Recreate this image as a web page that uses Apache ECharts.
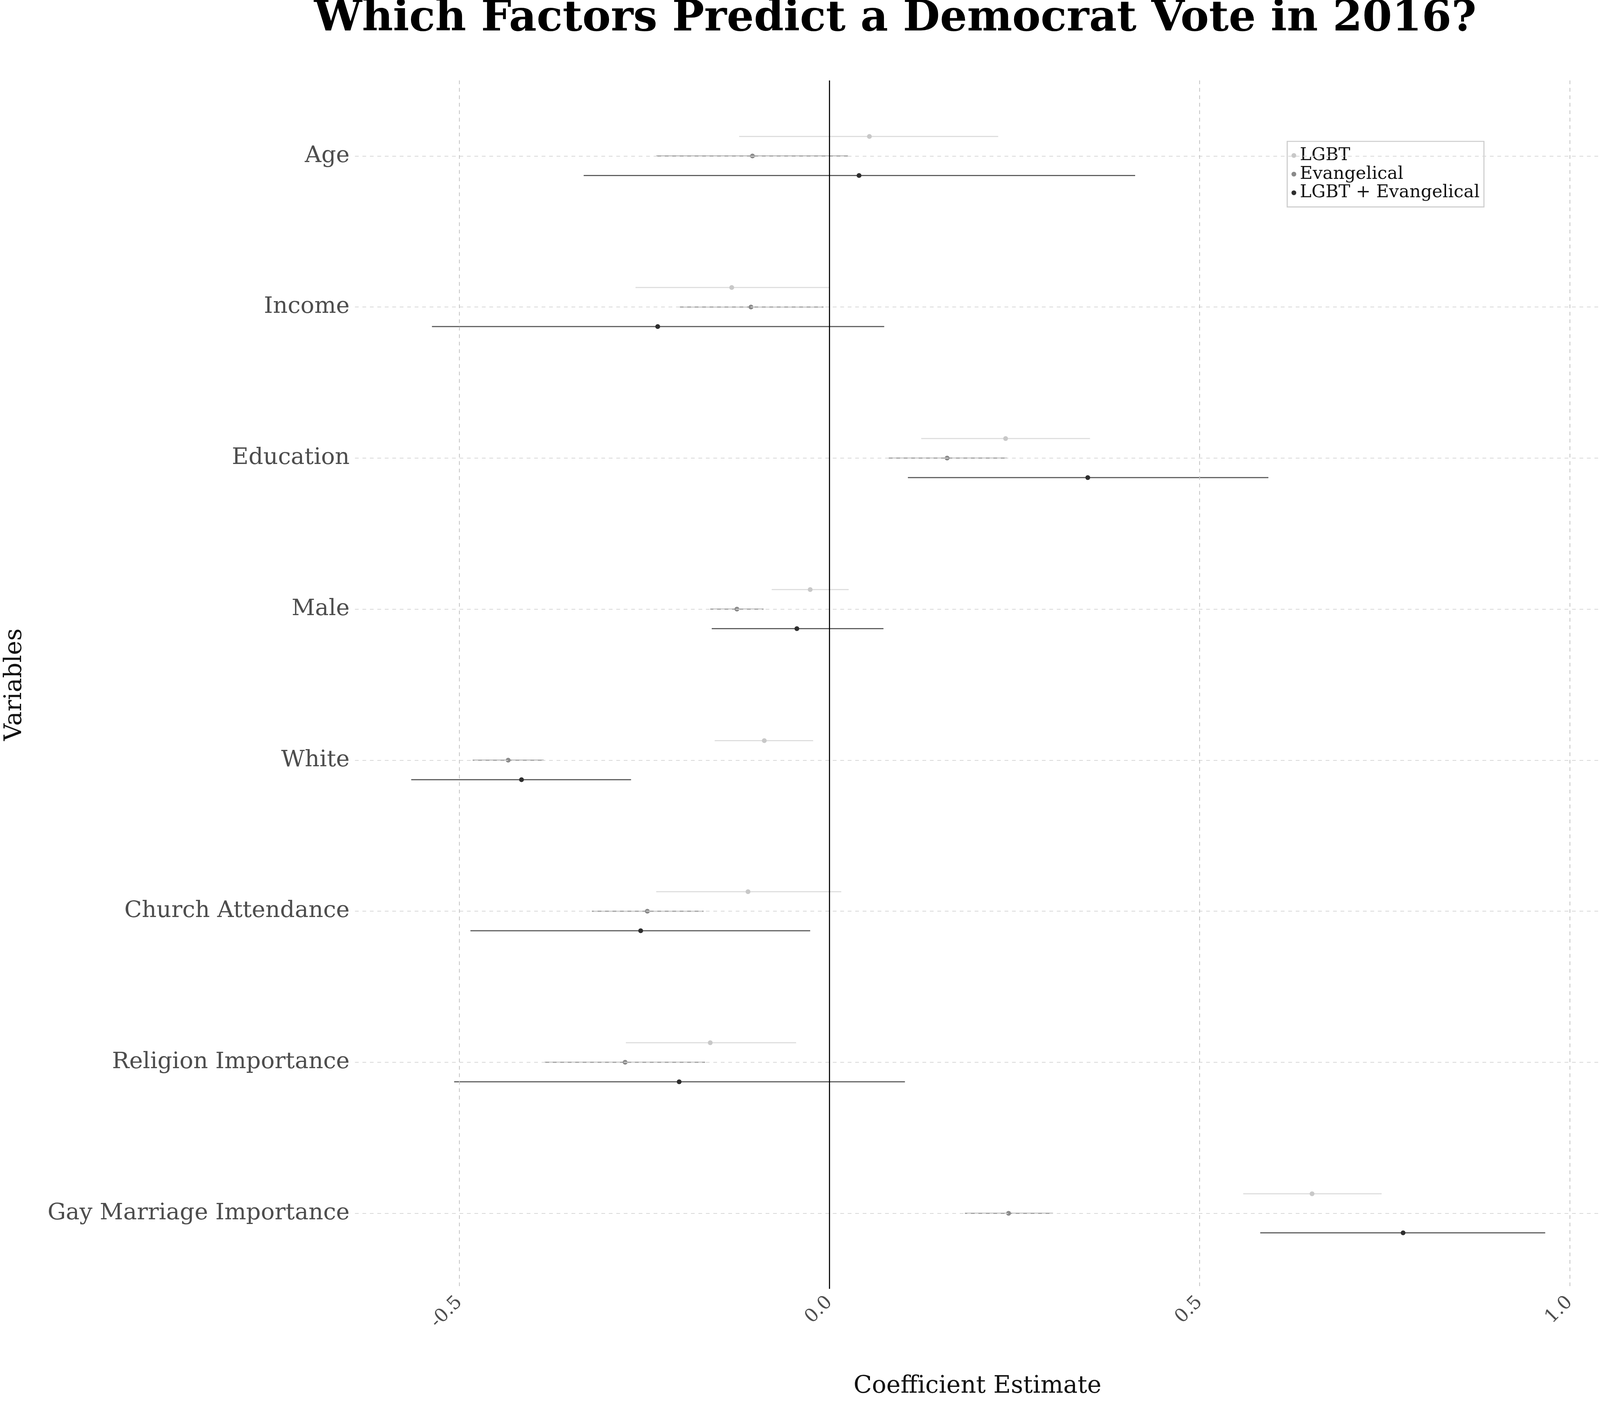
<!DOCTYPE html>
<html>
<head>
<meta charset="utf-8">
<script src="https://cdn.jsdelivr.net/npm/echarts@6/dist/echarts.min.js"></script>
<style>html,body{margin:0;padding:0;background:#fff;overflow:hidden}#chart{width:100vw;height:100vh}</style>
</head>
<body>
<div id="chart"></div>
<script>
var variables = ['Age', 'Income', 'Education', 'Male', 'White', 'Church Attendance', 'Religion Importance', 'Gay Marriage Importance'];
var seriesNames = ['LGBT', 'Evangelical', 'LGBT + Evangelical'];
// [estimate, low, high] per variable
var lgbt = [
	[0.054, -0.122, 0.228], [-0.132, -0.262, 0.0], [0.238, 0.124, 0.352], [-0.026, -0.078, 0.026],
	[-0.088, -0.155, -0.022], [-0.110, -0.234, 0.016], [-0.161, -0.275, -0.045], [0.652, 0.559, 0.746]
];
var evangelical = [
	[-0.104, -0.234, 0.025], [-0.106, -0.202, -0.008], [0.159, 0.080, 0.240], [-0.125, -0.161, -0.089],
	[-0.434, -0.482, -0.386], [-0.246, -0.321, -0.170], [-0.276, -0.385, -0.168], [0.242, 0.183, 0.302]
];
var both = [
	[0.040, -0.332, 0.413], [-0.232, -0.537, 0.074], [0.349, 0.106, 0.593], [-0.044, -0.159, 0.073],
	[-0.416, -0.565, -0.268], [-0.255, -0.485, -0.026], [-0.203, -0.507, 0.102], [0.775, 0.582, 0.967]
];
var xTicks = [-0.5, 0.0, 0.5, 1.0];

var el = document.getElementById('chart');
var W = el.clientWidth, H = el.clientHeight;
var sx = W / 6000, sy = H / 3600, s = Math.min(sx, sy);
var myChart = echarts.init(el);
var font = 'DejaVu Serif';
var colors = ['#c8c8c8', '#8a8a8a', '#2e2e2e'];
var lineColors = ['#dcdcdc', '#9a9a9a', '#555555'];
var offsets = [-50, 0, 50];

function makeSeries(idx, data) {
	return {
		name: seriesNames[idx],
		type: 'custom',
		itemStyle: {color: colors[idx]},
		data: data.map(function (d, i) { return [i, d[0], d[1], d[2]]; }),
		encode: {x: [1, 2, 3], y: 0},
		renderItem: function (params, api) {
			var cat = variables[api.value(0)];
			var p = api.coord([api.value(1), cat]);
			var lo = api.coord([api.value(2), cat]);
			var hi = api.coord([api.value(3), cat]);
			var dy = offsets[idx] * sy;
			return {
				type: 'group',
				children: [{
					type: 'line',
					shape: {x1: lo[0], y1: lo[1] + dy, x2: hi[0], y2: hi[1] + dy},
					style: {stroke: lineColors[idx], lineWidth: 4 * s}
				}, {
					type: 'circle',
					shape: {cx: p[0], cy: p[1] + dy, r: 9 * s},
					style: {fill: colors[idx]}
				}]
			};
		},
		z: 3
	};
}

var option = {
	backgroundColor: '#fff',
	title: {
		text: 'Which Factors Predict a Democrat Vote in 2016?',
		left: 3350 * sx, top: -10 * sy, textAlign: 'center',
		textStyle: {fontFamily: font, fontWeight: 'bold', fontSize: 160 * s, color: '#000'}
	},
	legend: {
		data: seriesNames,
		orient: 'vertical',
		left: 4827 * sx, top: 362 * sy,
		itemWidth: 30 * s, itemHeight: 18 * s, itemGap: 4 * s,
		icon: 'circle',
		padding: [20 * s, 16 * s, 20 * s, 16 * s],
		borderColor: '#cccccc', borderWidth: 4 * s,
		backgroundColor: '#fff',
		textStyle: {fontFamily: font, fontSize: 66 * s, color: '#111'}
	},
	grid: {left: 1288 * sx, right: 0, top: 206 * sy, bottom: 300 * sy, containLabel: false},
	xAxis: {
		type: 'value',
		min: -0.641, max: 1.041,
		name: 'Coefficient Estimate',
		nameLocation: 'middle', nameGap: 220 * sy,
		nameTextStyle: {fontFamily: font, fontSize: 90 * s, color: '#111'},
		axisLine: {show: false},
		axisTick: {show: false},
		axisLabel: {
			fontFamily: font, fontSize: 70 * s, color: '#4d4d4d', rotate: 45, margin: 40 * s,
			customValues: xTicks,
			formatter: function (v) { return v.toFixed(1); }
		},
		splitLine: {show: false}
	},
	yAxis: {
		type: 'category',
		data: variables,
		inverse: true,
		name: 'Variables',
		nameLocation: 'middle', nameGap: 1230 * sx, nameRotate: 90,
		nameTextStyle: {fontFamily: font, fontSize: 90 * s, color: '#111'},
		axisLine: {show: false},
		axisTick: {show: true, alignWithLabel: true, length: 12 * s, lineStyle: {color: '#aaa', width: 3 * s}},
		axisLabel: {fontFamily: font, fontSize: 86 * s, color: '#4d4d4d', margin: 20 * s},
		splitLine: {show: false}
	},
	series: [{
		type: 'line', data: [], silent: true,
		markLine: {
			symbol: 'none', silent: true, label: {show: false},
			lineStyle: {color: '#d8d8d8', type: [14 * s, 14 * s], width: 3 * s},
			data: variables.map(function (v) { return {yAxis: v}; })
				.concat(xTicks.filter(function (t) { return t !== 0; }).map(function (t) {
					return {xAxis: t, lineStyle: {color: '#c4c4c4', type: [14 * s, 14 * s], width: 3 * s}};
				}))
				.concat([{xAxis: 0, lineStyle: {color: '#000', type: 'solid', width: 4 * s}}])
		}
	}, makeSeries(0, lgbt), makeSeries(1, evangelical), makeSeries(2, both)]
};
myChart.setOption(option);
</script>
</body>
</html>
